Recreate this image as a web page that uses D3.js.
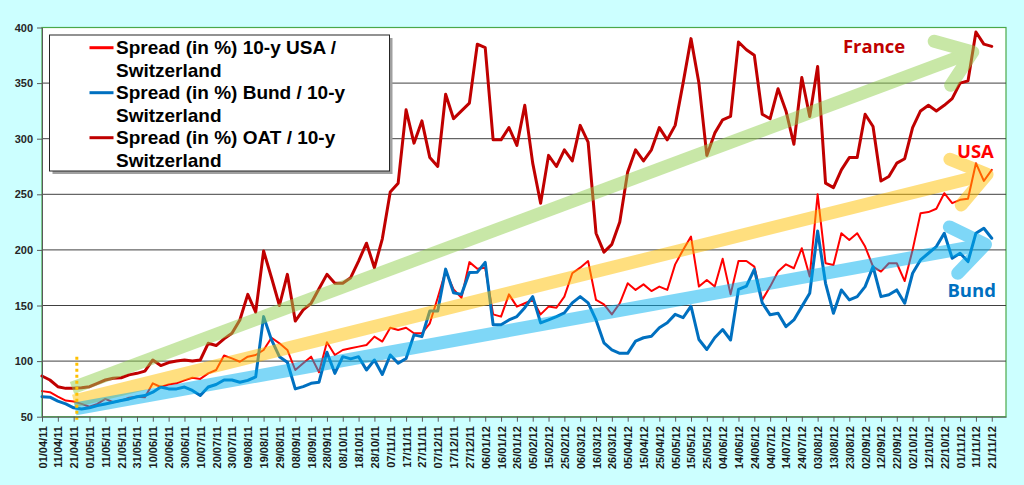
<!DOCTYPE html>
<html>
<head>
<meta charset="utf-8">
<script src="https://cdn.jsdelivr.net/npm/d3@7"></script>
<style>
  html, body { margin: 0; padding: 0; background: #ccffff; }
  svg { display: block; }
</style>
</head>
<body>
<div id="chart"></div>
<script>
// observation dates (every 5 days)
const dates = [
  "01/04/11","06/04/11","11/04/11","16/04/11","21/04/11","26/04/11","01/05/11","06/05/11","11/05/11","16/05/11",
  "21/05/11","26/05/11","31/05/11","05/06/11","10/06/11","15/06/11","20/06/11","25/06/11","30/06/11","05/07/11",
  "10/07/11","15/07/11","20/07/11","25/07/11","30/07/11","04/08/11","09/08/11","14/08/11","19/08/11","24/08/11",
  "29/08/11","03/09/11","08/09/11","13/09/11","18/09/11","23/09/11","28/09/11","03/10/11","08/10/11","13/10/11",
  "18/10/11","23/10/11","28/10/11","02/11/11","07/11/11","12/11/11","17/11/11","22/11/11","27/11/11","02/12/11",
  "07/12/11","12/12/11","17/12/11","22/12/11","27/12/11","01/01/12","06/01/12","11/01/12","16/01/12","21/01/12",
  "26/01/12","31/01/12","05/02/12","10/02/12","15/02/12","20/02/12","25/02/12","01/03/12","06/03/12","11/03/12",
  "16/03/12","21/03/12","26/03/12","31/03/12","05/04/12","10/04/12","15/04/12","20/04/12","25/04/12","30/04/12",
  "05/05/12","10/05/12","15/05/12","20/05/12","25/05/12","30/05/12","04/06/12","09/06/12","14/06/12","19/06/12",
  "24/06/12","29/06/12","04/07/12","09/07/12","14/07/12","19/07/12","24/07/12","29/07/12","03/08/12","08/08/12",
  "13/08/12","18/08/12","23/08/12","28/08/12","02/09/12","07/09/12","12/09/12","17/09/12","22/09/12","27/09/12",
  "02/10/12","07/10/12","12/10/12","17/10/12","22/10/12","27/10/12","01/11/12","06/11/12","11/11/12","16/11/12",
  "21/11/12"
];

const usaSpread = [
  73, 72, 68, 64.5, 63.6, 61.5, 59, 61.5, 66, 63,
  64.5, 67, 68, 67.6, 80, 76.7, 79, 80, 82.7, 85,
  84, 89, 92, 105, 102.4, 99.4, 104, 105.5, 110, 121,
  116, 110, 92, 98, 104, 90, 117, 105.5, 110, 111.5,
  113, 114.5, 122, 117.6, 130, 128, 130, 125, 125, 134,
  157, 181, 164.5, 157, 189, 183, 184, 142, 140, 160,
  149, 152, 155, 142, 149, 148, 158, 179, 184, 190,
  155, 151, 142, 152, 170, 164, 169, 163, 167, 164,
  187, 200, 212, 167, 173, 167, 192, 160, 190, 190,
  185, 155, 167, 180.5, 187, 183.5, 201.5, 176, 250, 188,
  186.5, 215, 209, 215, 203, 185, 180.5, 188, 188, 172,
  200, 233, 234, 237, 251, 242, 245, 246, 278, 262,
  272
];

const bundSpread = [
  68, 67.6, 64, 61.5, 58, 57, 58, 60, 61.5, 63,
  64.5, 66, 68, 69, 72, 76.7, 75, 75, 76.7, 73.6,
  69, 76.7, 79, 83, 83, 81, 82.7, 85.8, 140, 119,
  104, 99, 75, 77, 80, 81, 108, 89, 104, 102,
  104, 92, 101, 88, 105.5, 98, 102.4, 123.6, 122, 145,
  145, 182.7, 161.5, 160, 179.7, 180, 188.8, 132.7, 132.7, 137,
  140, 148, 158, 134.4, 137, 140, 143.4, 152.4, 158, 152.4,
  137, 116.4, 110, 107, 107, 118, 121, 122.4, 130, 134.4,
  142, 139, 149.4, 119.4, 110.4, 121, 128.4, 119, 164.4, 167.4,
  182.4, 152.4, 141.6, 143, 131, 137, 149, 161, 217, 170,
  143, 164, 155, 158, 167, 185, 158, 159.6, 164, 152,
  179, 191, 197, 203, 215, 192.5, 197, 189.5, 215, 219.5,
  210.5
];

const oatSpread = [
  86.6, 83, 77, 75.5, 75.5, 76, 77, 80, 83, 84.6,
  85, 87.6, 89, 91, 101, 96, 98.7, 100, 101, 100,
  101, 116, 114, 120, 125, 137, 160, 144, 199, 175,
  150, 178, 136, 146, 152, 165, 178, 170, 170, 175,
  190, 206, 184, 210, 252, 260, 326, 296, 316, 283,
  275, 340, 318, 325, 332, 385, 382, 299, 299, 310,
  294, 330, 278, 242, 285, 275, 290, 280, 312, 297,
  215, 198, 205, 225, 270, 290, 280, 290, 310, 299,
  312, 350, 390, 350, 285, 305, 317, 320, 387, 380,
  375, 322, 318, 345, 325, 295, 355, 320, 365, 260,
  256, 272, 283, 283, 322, 311, 262, 266, 278, 282,
  310, 325, 330, 325, 330, 336, 350, 352, 396, 385,
  383
];

const tickLabels = [
  "01/04/11","11/04/11","21/04/11","01/05/11","11/05/11","21/05/11","31/05/11","10/06/11","20/06/11","30/06/11",
  "10/07/11","20/07/11","30/07/11","09/08/11","19/08/11","29/08/11","08/09/11","18/09/11","28/09/11","08/10/11",
  "18/10/11","28/10/11","07/11/11","17/11/11","27/11/11","07/12/11","17/12/11","27/12/11","06/01/12","16/01/12",
  "26/01/12","05/02/12","15/02/12","25/02/12","06/03/12","16/03/12","26/03/12","05/04/12","15/04/12","25/04/12",
  "05/05/12","15/05/12","25/05/12","04/06/12","14/06/12","24/06/12","04/07/12","14/07/12","24/07/12","03/08/12",
  "13/08/12","23/08/12","02/09/12","12/09/12","22/09/12","02/10/12","12/10/12","22/10/12","01/11/12","11/11/12",
  "21/11/12"
];

const yTicks = [50, 100, 150, 200, 250, 300, 350, 400];
const xDomain = ["01/04/11", "30/11/12"];

const seriesNames = [
  ["Spread (in %) 10-y USA /", "Switzerland"],
  ["Spread (in %) Bund / 10-y", "Switzerland"],
  ["Spread (in %) OAT / 10-y", "Switzerland"]
];
const seriesColors = ["#ff0000", "#0070c0", "#c00000"];
const seriesWidths = [2, 3, 3];

// trend arrows: start / end as [date, value]
const arrowNames = ["France", "USA", "Bund"];
const arrowStarts = [["20/04/11", 75.8], ["21/04/11", 64], ["22/04/11", 57]];
const arrowEnds = [["09/11/12", 378], ["18/11/12", 268], ["17/11/12", 205]];
const arrowColors = ["#92d050", "#ffc000", "#00b0f0"];
const labelPos = [["19/08/12", 377], ["30/10/12", 283], ["24/10/12", 158]];
const labelColors = ["#c00000", "#ff0000", "#0070c0"];

const markerDate = "23/04/11";
const markerRange = [104, 45];

const width = 1024, height = 485;
const plot = {left: 42, right: 1006, top: 27.5, bottom: 416.7};
const parse = d3.utcParse("%d/%m/%y");

const x = d3.scaleUtc().domain(xDomain.map(parse)).range([plot.left, plot.right]);
const y = d3.scaleLinear().domain([50, 400]).range([plot.bottom, plot.top]);

const svg = d3.select("#chart").append("svg")
  .attr("width", width)
  .attr("height", height)
  .style("font-family", "'Liberation Sans', Arial, sans-serif");

svg.append("rect").attr("width", width).attr("height", height).attr("fill", "#ccffff");

// plot area
svg.append("rect")
  .attr("x", plot.left).attr("y", plot.top)
  .attr("width", plot.right - plot.left).attr("height", plot.bottom - plot.top)
  .attr("fill", "#ffffff")
  .attr("stroke", "#4aa84a").attr("stroke-width", 1.2);

// gridlines
svg.append("g").selectAll("line")
  .data(yTicks.filter(v => v > 50 && v < 400))
  .enter().append("line")
  .attr("x1", plot.left).attr("x2", plot.right)
  .attr("y1", d => y(d)).attr("y2", d => y(d))
  .attr("stroke", "#404040").attr("stroke-width", 1);

// series
const lineData = [usaSpread, bundSpread, oatSpread];
const line = d3.line()
  .x(d => x(d[0]))
  .y(d => y(d[1]));

svg.append("g").selectAll("path")
  .data(lineData)
  .enter().append("path")
  .attr("d", vals => line(vals.map((v, i) => [parse(dates[i]), v])))
  .attr("fill", "none")
  .attr("stroke", (d, i) => seriesColors[i])
  .attr("stroke-width", (d, i) => seriesWidths[i])
  .attr("stroke-linejoin", "round")
  .attr("stroke-linecap", "round");

// trend arrows (drawn over the series, semi transparent)
const armLen = 40, armAngle = 36 * Math.PI / 180;
arrowNames.forEach((name, i) => {
  const x0 = x(parse(arrowStarts[i][0])), y0 = y(arrowStarts[i][1]);
  const x1 = x(parse(arrowEnds[i][0])), y1 = y(arrowEnds[i][1]);
  const back = Math.atan2(y0 - y1, x0 - x1);
  const g = svg.append("g")
    .attr("opacity", 0.5)
    .attr("stroke", arrowColors[i])
    .attr("stroke-width", 13)
    .attr("stroke-linecap", "round")
    .attr("fill", "none");
  g.append("path")
    .attr("stroke-linecap", "butt")
    .attr("d", `M${x0},${y0}L${x1},${y1}`);
  g.append("path")
    .attr("stroke-linejoin", "round")
    .attr("d", `M${x1 + armLen * Math.cos(back + armAngle)},${y1 + armLen * Math.sin(back + armAngle)}` +
               `L${x1},${y1}` +
               `L${x1 + armLen * Math.cos(back - armAngle)},${y1 + armLen * Math.sin(back - armAngle)}`);
});

// start marker
svg.append("line")
  .attr("x1", x(parse(markerDate))).attr("x2", x(parse(markerDate)))
  .attr("y1", y(markerRange[0])).attr("y2", y(markerRange[1]))
  .attr("stroke", "#ffc000").attr("stroke-width", 3)
  .attr("stroke-dasharray", "3,3");

// annotations
svg.append("g").selectAll("text")
  .data(arrowNames)
  .enter().append("text")
  .attr("x", (d, i) => x(parse(labelPos[i][0])))
  .attr("y", (d, i) => y(labelPos[i][1]))
  .attr("fill", (d, i) => labelColors[i])
  .style("font-family", "'Open Sans', 'Noto Sans', sans-serif")
  .style("font-weight", "bold")
  .style("font-size", "18.5px")
  .text(d => d);

// axes
const yAxis = svg.append("g")
  .attr("transform", `translate(${plot.left},0)`)
  .call(d3.axisLeft(y).tickValues(yTicks).tickSize(5).tickSizeOuter(0).tickPadding(4).tickFormat(d3.format("d")));
yAxis.select(".domain").attr("stroke", "#595959");
yAxis.selectAll(".tick line").attr("stroke", "#595959");
yAxis.selectAll(".tick text")
  .attr("fill", "#262626")
  .style("font-size", "11px").style("font-weight", "bold")
  .style("font-family", "'Liberation Sans', Arial, sans-serif");

const xAxis = svg.append("g")
  .attr("transform", `translate(0,${plot.bottom})`)
  .call(d3.axisBottom(x).tickValues(tickLabels.map(parse)).tickSize(5).tickSizeOuter(0)
    .tickFormat(d3.utcFormat("%d/%m/%y")));
xAxis.select(".domain").attr("stroke", "#595959");
xAxis.selectAll(".tick line").attr("stroke", "#595959");
xAxis.selectAll(".tick text")
  .attr("transform", "rotate(-90)")
  .attr("text-anchor", "end")
  .attr("x", -9.5).attr("y", 4).attr("dy", "0")
  .attr("fill", "#1a1a1a")
  .style("font-size", "11px").style("font-weight", "bold")
  .style("font-family", "'Liberation Sans', Arial, sans-serif");

// legend
const legend = svg.append("g").attr("transform", "translate(49.5,35)");
legend.append("rect")
  .attr("x", 3).attr("y", 3).attr("width", 340).attr("height", 136)
  .attr("fill", "#a0a0a0");
legend.append("rect")
  .attr("width", 340).attr("height", 136)
  .attr("fill", "#ffffff").attr("stroke", "#262626").attr("stroke-width", 1);

const entries = legend.selectAll("g.entry")
  .data(seriesNames)
  .enter().append("g")
  .attr("class", "entry")
  .attr("transform", (d, i) => `translate(0,${i * 45})`);
entries.append("line")
  .attr("x1", 40).attr("x2", 64)
  .attr("y1", 12.7).attr("y2", 12.7)
  .attr("stroke", (d, i) => seriesColors[i])
  .attr("stroke-width", 3);
entries.append("text")
  .attr("x", 66.5).attr("y", 19)
  .style("font-size", "19px").style("font-weight", "bold")
  .attr("fill", "#000")
  .selectAll("tspan")
  .data(d => d)
  .enter().append("tspan")
  .attr("x", 66.5)
  .attr("dy", (d, i) => i === 0 ? 0 : 22.5)
  .text(d => d);
</script>
</body>
</html>
